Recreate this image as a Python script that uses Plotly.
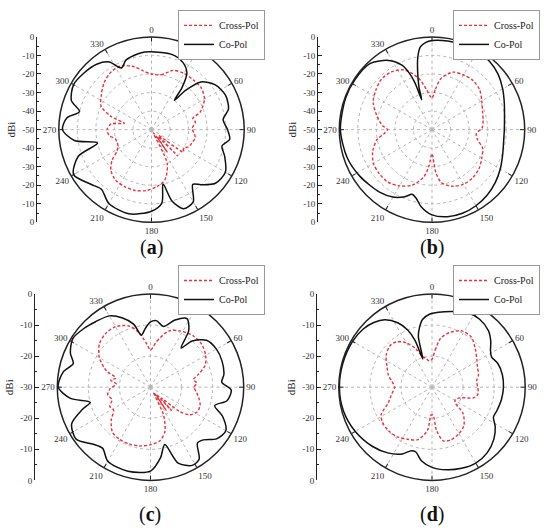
import plotly.graph_objects as go

# ---------------- data (dB vs angle in degrees) ----------------
A_CO_THETA = [0,15,25,32,36,38,41,46,55,65,75,82,90,97,103,110,120,130,138,143,150,158,164,168,172,180,195,210,220,228,240,250,256,262,270,278,284,290,300,310,320,328,334,340,350,355]
A_CO_R = [-8,-8,-10,-14,-22,-30,-22,-13,-8,-6,-7,-11,-9,-7.5,-11,-8,-4,-5,-10,-13,-5,-4,-10,-20,-10,-6,-3,-4,-8,-6,-1.5,-8,-20,-8,-2,-4,-10,-4,-1.5,-2.5,-4,-7,-13,-10,-8.5,-8]

A_X_THETA = [0,10,20,30,40,50,60,70,75,80,88,95,100,108,115,120,125,130,135,140,145,150,155,165,175,185,195,205,215,225,232,238,245,255,262,270,278,283,288,295,305,315,325,335,345,352]
A_X_R = [-20,-20,-16,-15,-15,-15,-17,-22,-27,-26,-28,-27,-26,-27,-28,-30,-29,-45,-30,-45,-35,-48,-30,-22,-19,-17,-16,-16,-16.5,-19,-23,-28,-30,-30,-27,-26,-28,-35,-27,-20,-17,-14,-12,-12,-15,-18]

B_CO_THETA = [341,343,346,349,352,356,0,10,20,30,40,50,60,70,80,90,100,110,120,130,140,150,160,170,180,188,193,197,202,210,220,237,252,270,290,303,317,328,335,338,340,341]
B_CO_R = [-33,-26,-18,-10,-5,-2.8,-2,-1.5,-1.2,-1.2,-1.8,-3.5,-6,-8.5,-10.3,-11,-10.8,-9.5,-7.5,-5.5,-3.8,-2.6,-2,-2.3,-4,-8,-12,-13.5,-11,-8,-6,-3.7,-1.8,-0.6,-0.4,-0.5,-1.2,-6,-11.7,-17,-23,-33]

B_X_THETA = [0,5,10,20,30,40,50,60,70,80,88,95,102,110,120,130,140,150,160,170,175,180,185,190,200,210,220,230,240,250,260,265,270,275,285,295,305,315,325,335,345,352,357]
B_X_R = [-33,-28,-22,-17,-16,-15.5,-16.5,-19,-21,-22,-23,-26,-25,-21,-19,-17,-16,-16,-17.5,-21,-27,-37,-30,-24,-18,-15,-13,-13,-13.5,-16,-20,-24,-26,-23,-19,-15,-13,-11.5,-12,-14.5,-21,-28,-32]

C_CO_THETA = [0,5,12,20,28,34,38,42,50,60,70,80,86,92,100,106,112,120,128,135,140,146,152,160,166,172,180,195,210,218,225,235,245,252,256,262,270,280,287,293,302,312,320,330,338,345,350,355]
C_CO_R = [-9,-8.5,-10,-7,-5,-8,-14,-10,-6.5,-5.5,-5.5,-6,-7,-4,-5,-8.5,-5,-2,-3,-6,-6.5,-2,-1.5,-4,-11,-7,-3,-2,-2.5,-5,-4,-0.8,-2,-7,-10,-4,-0.3,-1.5,-4,-2,-0.5,-1.5,-2.5,-3.5,-6,-9,-13,-11]

C_X_THETA = [0,8,18,28,40,50,60,68,75,80,85,90,97,103,110,118,125,130,135,138,142,146,150,155,162,170,180,190,200,210,220,230,238,245,252,260,268,275,280,285,290,300,310,320,330,340,348,355]
C_X_R = [-18,-15,-11,-9.5,-8.5,-8.5,-9.5,-11,-14,-16,-15,-16,-15,-14,-13,-13,-14.5,-18,-25,-20,-27,-21,-28,-20,-15,-12.5,-11.5,-10.8,-10.5,-10.5,-11,-13.5,-16,-15.5,-17,-16,-17,-19,-17,-18.5,-15,-11,-8.5,-7.5,-7.5,-9,-12,-16]

D_CO_THETA = [342,345,348,352,358,5,15,25,35,45,52,58,63,70,80,90,100,110,116,122,130,140,150,160,170,180,188,194,198,204,214,225,240,255,270,285,300,310,318,325,332,337,340,342]
D_CO_R = [-20.5,-13,-10.5,-8,-6.5,-5.8,-4.8,-3.5,-3.3,-4.3,-6,-7.8,-8.5,-7.5,-7,-7,-7.3,-7.8,-8,-6,-4,-2.4,-1.8,-2.2,-3,-4.2,-6,-8.5,-8.5,-6.5,-4.5,-3,-1.5,-0.5,-0.2,-0.3,-0.5,-1,-2,-3.5,-6.5,-10,-14,-20.5]

D_X_THETA = [0,5,10,18,28,38,48,58,66,75,82,90,98,104,110,118,124,130,140,150,160,168,174,178,182,186,195,205,215,225,235,242,250,258,265,270,278,285,295,305,315,322,330,337,342,348,354]
D_X_R = [-21,-18,-14,-11.5,-9.5,-9.5,-11.3,-13,-14,-14.5,-15.5,-15.3,-15,-16,-20,-21.5,-21,-17,-14,-12.7,-12,-12.3,-16,-21,-21,-16,-12.5,-11.5,-10.5,-10.2,-10.5,-11.5,-15,-16.5,-17.5,-18,-17,-15.5,-14,-12,-11,-11.5,-13.5,-16.5,-19.5,-20.5,-21.5]

ANG_TICKS = [0,30,60,90,120,150,180,210,240,270,300,330]
ANG_LABELS = ["0","30","60","90","120","150","180","210","240","270","300","330"]

SCALE50_VALS = [-50,-40,-30,-20,-10,0,10,20,30,40,50]
SCALE50_TEXT = ["0","-10","-20","-30","-40","-50","-40","-30","-20","-10","0"]
SCALE30_VALS = [-30,-20,-10,0,10,20,30]
SCALE30_TEXT = ["0","-10","-20","-30","-20","-10","0"]

CAPTIONS = ["(<b>a</b>)", "(<b>b</b>)", "(<b>c</b>)", "(<b>d</b>)"]
LEGEND_NAMES = ["Cross-Pol", "Co-Pol"]

# ---------------- layout helpers ----------------
W, H = 550, 532
SERIF = "Liberation Serif"
def fx(px):
    return px / W
def fy(py):
    return 1 - py / H

def closed(th, r, wrap):
    if wrap:
        return th + [th[0]], r + [r[0]]
    return th, r

panels = [
    dict(co=(A_CO_THETA, A_CO_R, True), x=(A_X_THETA, A_X_R, True), rmin=-50,
         cx=151.5, cy=127, R=94.5, axx=37, cap=(151, 247), leg=(265, 5),
         vals=SCALE50_VALS, text=SCALE50_TEXT),
    dict(co=(B_CO_THETA, B_CO_R, False), x=(B_X_THETA, B_X_R, True), rmin=-50,
         cx=432, cy=127, R=94.5, axx=318, cap=(432, 247), leg=(540, 5),
         vals=SCALE50_VALS, text=SCALE50_TEXT),
    dict(co=(C_CO_THETA, C_CO_R, True), x=(C_X_THETA, C_X_R, True), rmin=-30,
         cx=150.5, cy=389.5, R=95, axx=35, cap=(150, 519), leg=(265, 265),
         vals=SCALE30_VALS, text=SCALE30_TEXT),
    dict(co=(D_CO_THETA, D_CO_R, False), x=(D_X_THETA, D_X_R, True), rmin=-30,
         cx=432, cy=389.5, R=95, axx=317, cap=(432, 519), leg=(540, 265),
         vals=SCALE30_VALS, text=SCALE30_TEXT),
]

fig = go.Figure()
layout = dict(width=W, height=H, margin=dict(l=0, r=0, t=0, b=0),
              paper_bgcolor="white", plot_bgcolor="rgba(0,0,0,0)",
              font=dict(family=SERIF, color="#222"), annotations=[], showlegend=True)

grid_color = "#b5b5b5"
for i, p in enumerate(panels, start=1):
    sfx = "" if i == 1 else str(i)
    polar_id = "polar" + sfx
    legend_id = "legend" + sfx
    th, r = closed(*p["x"])
    fig.add_trace(go.Scatterpolar(theta=th, r=r, mode="lines", name=LEGEND_NAMES[0],
                                  subplot=polar_id, legend=legend_id,
                                  line=dict(color="#e8323c", width=1.4, dash="3px,2px",
                                            shape="spline", smoothing=0.8),
                                  hoverinfo="skip"))
    th, r = closed(*p["co"])
    fig.add_trace(go.Scatterpolar(theta=th, r=r, mode="lines", name=LEGEND_NAMES[1],
                                  subplot=polar_id, legend=legend_id,
                                  line=dict(color="#111111", width=1.5,
                                            shape="spline", smoothing=0.8),
                                  hoverinfo="skip"))
    # empty trace so the cartesian dBi scale subplot gets drawn
    fig.add_trace(go.Scatter(x=[], y=[], xaxis="x" + sfx, yaxis="y" + sfx,
                             showlegend=False, hoverinfo="skip"))
    x0, x1 = fx(p["cx"] - p["R"]), fx(p["cx"] + p["R"])
    y0, y1 = fy(p["cy"] + p["R"]), fy(p["cy"] - p["R"])
    layout[polar_id] = dict(
        domain=dict(x=[x0, x1], y=[y0, y1]), bgcolor="white",
        angularaxis=dict(rotation=90, direction="clockwise", tickmode="array",
                         tickvals=ANG_TICKS, ticktext=ANG_LABELS, ticks="inside",
                         ticklen=4, tickcolor="#222", showline=True, linecolor="#222",
                         linewidth=1.5, gridcolor=grid_color, griddash="dot", gridwidth=1,
                         tickfont=dict(family=SERIF, size=9, color="#333")),
        radialaxis=dict(range=[p["rmin"], 0], tick0=0, dtick=10, showticklabels=False,
                        ticks="", showline=False, gridcolor=grid_color, griddash="dot",
                        gridwidth=1),
    )
    rng = -p["rmin"]
    layout["xaxis" + sfx] = dict(domain=[fx(p["axx"]), fx(p["axx"]) + 0.01], range=[0, 1],
                                 visible=False, anchor="y" + sfx, fixedrange=True)
    layout["yaxis" + sfx] = dict(domain=[y0, y1], range=[-rng, rng], anchor="x" + sfx,
                                 tickmode="array", tickvals=p["vals"], ticktext=p["text"],
                                 ticks="inside", ticklen=4, tickcolor="#222",
                                 minor=dict(tickmode="linear", tick0=0, dtick=5, ticks="inside",
                                            ticklen=2, tickcolor="#222", showgrid=False),
                                 showline=True, linecolor="#222", linewidth=1,
                                 showgrid=False, zeroline=False, fixedrange=True,
                                 tickfont=dict(family=SERIF, size=9, color="#333"),
                                 title=dict(text="dBi", standoff=4,
                                            font=dict(family=SERIF, size=11, color="#222")))
    layout[legend_id] = dict(x=fx(p["leg"][0]), xanchor="right", y=fy(p["leg"][1]),
                             yanchor="top", bgcolor="white", bordercolor="#999",
                             borderwidth=1, itemwidth=30, tracegroupgap=0,
                             font=dict(family=SERIF, size=10, color="#222"))
    layout["annotations"].append(dict(text=CAPTIONS[i - 1], x=fx(p["cap"][0]),
                                      y=fy(p["cap"][1]), xref="paper", yref="paper",
                                      showarrow=False, xanchor="center", yanchor="middle",
                                      font=dict(family=SERIF, size=20, color="#111")))

fig.update_layout(**layout)
fig.write_html("out.html", config={"displayModeBar": False},
               post_script="document.body.style.margin='0';")
